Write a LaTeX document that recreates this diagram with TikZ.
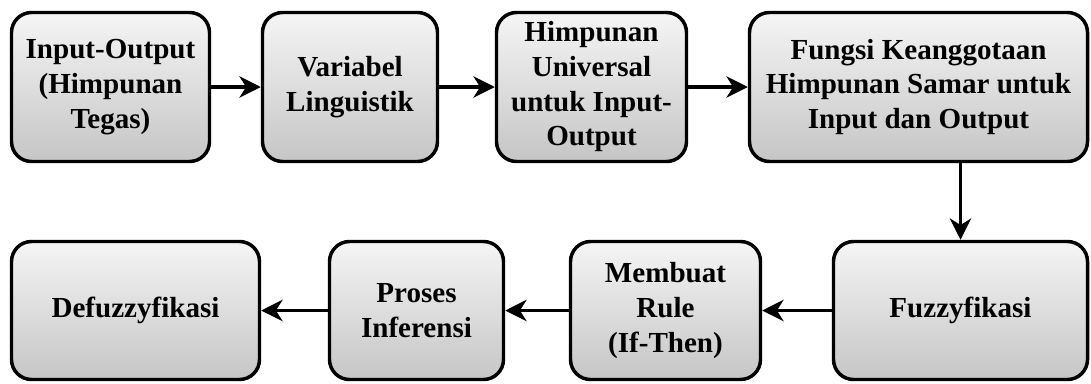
\documentclass[tikz,border=0pt]{standalone}
\usepackage{fontspec}
\setmainfont{Liberation Serif}
\usepackage{tikz}
\usetikzlibrary{arrows.meta,positioning,shapes}

\tikzset{
  stepbox/.style={draw, line width=2.6pt, rounded corners=15pt,
    top color=gray!8, bottom color=gray!45, align=center,
    font=\bfseries\fontsize{21.8}{26}\selectfont, inner sep=0pt},
  flow/.style={line width=2.5pt, -{Stealth[length=16pt,width=16pt,inset=5pt]}}
}

\begin{document}
\begin{tikzpicture}[x=0.75pt,y=-0.75pt]
\useasboundingbox (0,0) rectangle (1091,383);
%%%%%%%%%%%%%%%% top row
\node[stepbox, minimum width=198*0.75pt, minimum height=149*0.75pt] (io) at (110.5,87) {Input-Output\\(Himpunan\\Tegas)};
\node[stepbox, minimum width=175*0.75pt, minimum height=149*0.75pt] (var) at (350,87) {Variabel\\Linguistik};
\node[stepbox, minimum width=190*0.75pt, minimum height=149*0.75pt] (univ) at (591.5,87) {Himpunan\\Universal\\untuk Input-\\Output};
\node[stepbox, minimum width=338*0.75pt, minimum height=149*0.75pt] (fungsi) at (918.5,87) {Fungsi Keanggotaan\\Himpunan Samar untuk\\Input dan Output};
%%%%%%%%%%%%%%%% bottom row
\node[stepbox, minimum width=254*0.75pt, minimum height=138*0.75pt] (fuzzy) at (960.5,310.5) {Fuzzyfikasi};
\node[stepbox, minimum width=190*0.75pt, minimum height=138*0.75pt] (rule) at (665.5,310.5) {Membuat\\Rule\\(If-Then)};
\node[stepbox, minimum width=174*0.75pt, minimum height=138*0.75pt] (inf) at (416.5,310.5) {Proses\\Inferensi};
\node[stepbox, minimum width=248*0.75pt, minimum height=138*0.75pt] (defuzzy) at (135.5,310.5) {Defuzzyfikasi};
%%%%%%%%%%%%%%%% arrows
\draw[flow] (io) -- (var);
\draw[flow] (var) -- (univ);
\draw[flow] (univ) -- (fungsi);
\draw[flow] (fungsi.south -| fuzzy.north) -- (fuzzy.north);
\draw[flow] (fuzzy) -- (rule);
\draw[flow] (rule) -- (inf);
\draw[flow] (inf) -- (defuzzy);
\end{tikzpicture}
\end{document}
